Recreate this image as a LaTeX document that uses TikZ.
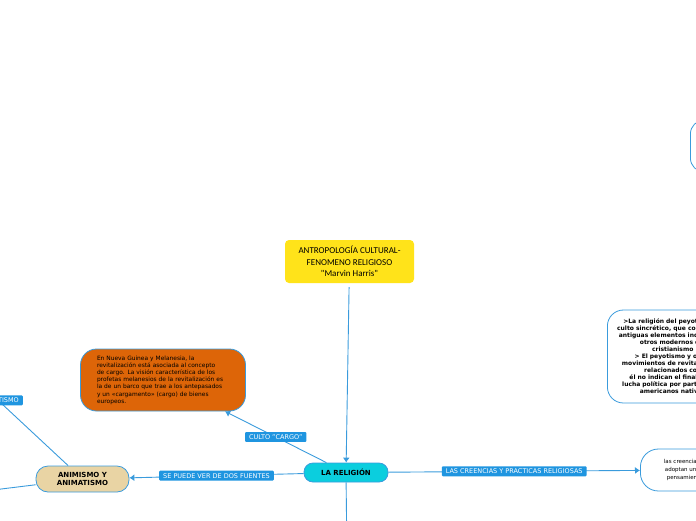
\documentclass[tikz,border=0pt]{standalone}
\usepackage{fontspec}
\setmainfont{DejaVu Sans}
\newfontfamily\calfont{Carlito}
\usetikzlibrary{arrows.meta,positioning}
\definecolor{mapline}{HTML}{3A9BDC}
\definecolor{labelblue}{HTML}{1F95E0}
\definecolor{yellowbox}{HTML}{FFE31A}
\definecolor{religioncol}{HTML}{0BCEDE}
\definecolor{orangebox}{HTML}{DD6508}
\definecolor{tanbox}{HTML}{E9D4A4}
\tikzset{
  >={Latex[length=5pt,width=7pt]},
  topic/.style={draw=mapline, line width=0.8pt, align=center,
    font=\bfseries\fontsize{7}{8.2}\selectfont},
  rel/.style={fill=labelblue, text=white, rounded corners=1pt,
    inner xsep=4pt, inner ysep=2.5pt, font=\fontsize{6.5}{7.5}\selectfont},
  conn/.style={draw=mapline, line width=0.9pt},
}

\begin{document}
\begin{tikzpicture}[x=1pt,y=-1pt]
\useasboundingbox (0,0) rectangle (696,520);
\clip (0,0) rectangle (696,520);

% main topics
\node[fill=yellowbox, rounded corners=4pt, minimum width=129pt, minimum height=43pt,
  align=center, font=\calfont\fontsize{9}{11.5}\selectfont] (antro) at (349.5,261.5)
  {ANTROPOLOGÍA CULTURAL-\\FENOMENO RELIGIOSO\\ "Marvin Harris"};
\node[topic, fill=religioncol, rounded corners=9pt, minimum width=84pt, minimum height=19pt]
  (religion) at (346,472.5) {LA RELIGIÓN};
\node[topic, fill=tanbox, rounded corners=12pt, minimum width=93pt, minimum height=26pt]
  (animismo) at (82.5,479) {ANIMISMO Y\\ANIMATISMO};

% subtopics
\node[draw=mapline, fill=orangebox, line width=0.8pt, rounded corners=16pt,
  text width=132pt, minimum width=165pt, minimum height=62pt, align=left,
  font=\fontsize{5.9}{7.2}\selectfont] (cargo) at (163,380)
  {En Nueva Guinea y Melanesia, la\\revitalización está asociada al concepto\\de cargo. La visión característica de los\\profetas melanesios de la revitalización es\\la de un barco que trae a los antepasados\\y un «cargamento» (cargo) de bienes\\europeos.};
\node[draw=mapline, fill=white, line width=0.8pt, rounded corners=18pt, anchor=west,
  text width=104pt, minimum height=42pt, align=center,
  font=\fontsize{5.5}{8}\selectfont] (creencias) at (640,470)
  {las creencias religiosas\\adoptan una forma de\\pensamiento mágico};
\node[draw=mapline, fill=white, line width=0.8pt, rounded corners=16pt, anchor=west,
  text width=124pt, minimum height=93pt, align=center,
  font=\bfseries\fontsize{6}{7}\selectfont] (peyote) at (607,356.5)
  {>La religión del peyote es un\\culto sincrético, que combina los\\antiguas elementos indígenas y\\otros modernos del\\cristianismo\\> El peyotismo y otros\\movimientos de revitalización\\relacionados con\\él no indican el final de la\\lucha política por parte de los\\americanos nativos};
\node[draw=mapline, fill=white, line width=0.8pt, rounded corners=14pt, anchor=west,
  minimum width=60pt, minimum height=52pt] (arriba) at (690,146) {};

% ends outside the frame
\coordinate (animatismo) at (-72,335);
\coordinate (fuente) at (-7,490);
\coordinate (abajo) at (347,560);

% connectors
\draw[conn,->,shorten <=4pt] (antro) -- (religion);
\draw[conn,->] (religion) -- node[rel] {CULTO "CARGO"} (cargo);
\draw[conn,->] (religion) -- node[rel] {SE PUEDE VER DE DOS FUENTES} (animismo);
\draw[conn,->] (religion) -- node[rel] {LAS CREENCIAS Y PRACTICAS RELIGIOSAS} (creencias);
\draw[conn,->] (animismo) -- node[rel] {ANIMATISMO} (animatismo);
\draw[conn,->] (animismo) -- (fuente);
\draw[conn,->] (religion) -- (abajo);
\end{tikzpicture}
\end{document}
